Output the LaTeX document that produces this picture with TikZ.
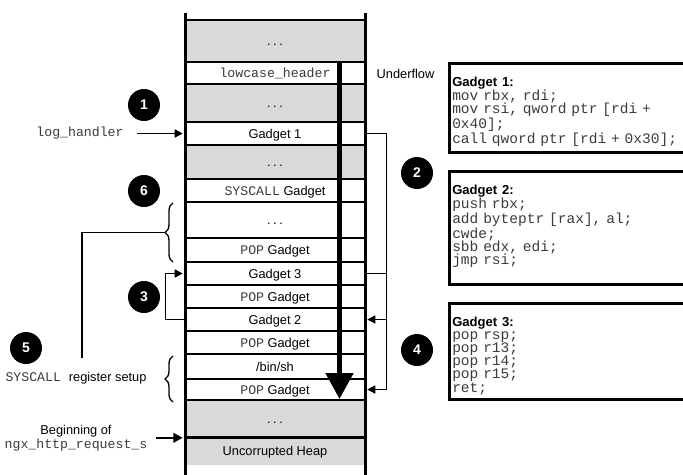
\documentclass[tikz,border=0pt]{standalone}
\usepackage{fontspec}
\setmainfont{Liberation Sans}
\setmonofont{Liberation Mono}
\usetikzlibrary{arrows.meta,decorations.pathreplacing}
\definecolor{gry}{HTML}{D9D9D9}
\definecolor{monoc}{HTML}{3C3C3C}
\newcommand\mymono[1]{{\fontsize{9.9}{11}\selectfont\ttfamily\color{monoc}#1}}
\newcommand\codemono[1]{{\fontsize{10.9}{9.9}\selectfont\ttfamily\color{monoc}#1}}
\newcommand\rowdots{.\hspace{2pt}.\hspace{2pt}.}
\begin{document}
\begin{tikzpicture}[x=0.75pt,y=-0.75pt,
  row/.style={draw=black, line width=1.2pt, minimum width=135pt, inner sep=0pt, text height=8pt, text depth=1.2pt, font=\fontsize{9.6}{11}\selectfont},
  grayrow/.style={row, fill=gry},
  whiterow/.style={row, fill=white},
  num/.style={circle, fill=black, text=white, minimum size=24pt, inner sep=0pt, font=\fontsize{10.5}{12}\selectfont\bfseries},
  lbl/.style={inner sep=1pt, font=\fontsize{9.6}{10.5}\selectfont, align=center},
  conn/.style={line width=1pt, -{Triangle[length=6pt,width=6pt]}},
  plain/.style={line width=1pt},
  codebox/.style={draw=black, line width=2pt, minimum width=190pt, anchor=north west, inner sep=0pt},
  codetext/.style={anchor=base west, inner sep=0pt, text width=180pt, align=left, font=\fontsize{10.9}{9.9}\selectfont},
  wall/.style={line width=2.25pt},
  bracestyle/.style={decorate, decoration={brace, amplitude=6pt}, line width=1pt}
]
\useasboundingbox (0,0) rectangle (683,475);
\clip (0,0) rectangle (683,475);
\fill[white] (0,0) rectangle (683,475);

% stack rows
\node[grayrow, minimum height=31.5pt] (r0) at (275,41) {\rowdots};
\node[whiterow, minimum height=16.5pt] (r1) at (275,73) {\mymono{lowcase\_header}};
\node[grayrow, minimum height=28.5pt] (r2) at (275,103) {\rowdots};
\node[whiterow, minimum height=17.25pt] (r3) at (275,133.5) {Gadget 1};
\node[grayrow, minimum height=25.5pt] (r4) at (275,162) {\rowdots};
\node[whiterow, minimum height=17.25pt] (r5) at (275,190.5) {\mymono{SYSCALL} Gadget};
\node[whiterow, minimum height=27pt] (r6) at (275,220) {\rowdots};
\node[whiterow, minimum height=18pt] (r7) at (275,250) {\mymono{POP} Gadget};
\node[whiterow, minimum height=17.25pt] (r8) at (275,273.5) {Gadget 3};
\node[whiterow, minimum height=17.25pt] (r9) at (275,296.5) {\mymono{POP} Gadget};
\node[whiterow, minimum height=17.25pt] (r10) at (275,319.5) {Gadget 2};
\node[whiterow, minimum height=17.25pt] (r11) at (275,342.5) {\mymono{POP} Gadget};
\node[whiterow, minimum height=18.75pt] (r12) at (275,366.5) {/bin/sh};
\node[whiterow, minimum height=15.75pt] (r13) at (275,389.5) {\mymono{POP} Gadget};
\node[grayrow, minimum height=27.75pt] (r14) at (275,418.5) {\rowdots};
\node[row, draw=none, fill=gry, minimum height=21pt] (r15) at (275,451) {Uncorrupted Heap};
\draw[line width=2pt] (r14.south west) -- (r14.south east);

% underflow arrow
\coordinate (ftop) at (339.5,62);
\coordinate (fbot) at (339.5,399);
\draw[line width=3.75pt, -{Triangle[length=19.5pt,width=20.25pt]}] (ftop) -- (fbot);

% walls
\coordinate (wl0) at (185,13); \coordinate (wl1) at (185,480);
\coordinate (wr0) at (365,13); \coordinate (wr1) at (365,480);
\draw[wall] (wl0) -- (wl1);
\draw[wall] (wr0) -- (wr1);

% left labels
\node[lbl] (log) at (80,133.5) {\mymono{log\_handler}};
\draw[conn, shorten <=9pt, shorten >=1.1pt] (log.east) -- (r3.west);
\node[lbl] (ngx) at (76,438) {Beginning of\\\mymono{ngx\_http\_request\_s}};
\draw[line width=1.8pt, -{Triangle[length=7pt,width=7pt]}, shorten <=5pt, shorten >=1.1pt] (ngx.east |- r14.south west) -- (r14.south west);
\node[lbl] (sysreg) at (76,378) {\mymono{SYSCALL\ }register setup};

% braces
\draw[bracestyle] (173,262) -- (173,203);
\draw[bracestyle] (173,402) -- (173,356);
\coordinate (b1tip) at (165,232.5);
\coordinate (c5) at (82,358);
\draw[plain] (b1tip) -| (c5);

% gadget loops
\draw[conn, shorten >=1.1pt] (r10.west) -- ++(-19,0) |- (r8.west);
\draw[conn, shorten >=1.1pt] (r3.east) -- ++(21,0) |- (r10.east);
\draw[conn, shorten >=1.1pt] (r8.east) -- ++(21,0) |- (r13.east);

% numbered circles
\node[num] (n1) at (144,105) {1};
\node[num] (n6) at (144,191) {6};
\node[num] (n3) at (144,297) {3};
\node[num] (n5) at (26,348) {5};
\node[num] (n2) at (417,173) {2};
\node[num] (n4) at (417,350) {4};

\node[lbl] (uf) at (405.5,74) {Underflow};

% code boxes
\node[codebox, minimum height=66.75pt] (b1) at (448,62) {};
\node[codebox, minimum height=84.75pt] (b2) at (448,170) {};
\node[codebox, minimum height=72pt] (b3) at (448,302) {};

\node[codetext] (t1) at (452,86) {{\bfseries\fontsize{9.8}{9.9}\selectfont Gadget 1:}\\
\codemono{mov rbx, rdi;}\\
\codemono{mov rsi, qword ptr [rdi +}\\
\codemono{0x40];}\\
\codemono{call qword ptr [rdi + 0x30];}};
\node[codetext] (t2) at (452,194) {{\bfseries\fontsize{9.8}{9.9}\selectfont Gadget 2:}\\
\codemono{push rbx;}\\
\codemono{add byteptr [rax], al;}\\
\codemono{cwde;}\\
\codemono{sbb edx, edi;}\\
\codemono{jmp rsi;}};
\node[codetext] (t3) at (452,326) {{\bfseries\fontsize{9.8}{9.9}\selectfont Gadget 3:}\\
\codemono{pop rsp;}\\
\codemono{pop r13;}\\
\codemono{pop r14;}\\
\codemono{pop r15;}\\
\codemono{ret;}};
\end{tikzpicture}
\end{document}
